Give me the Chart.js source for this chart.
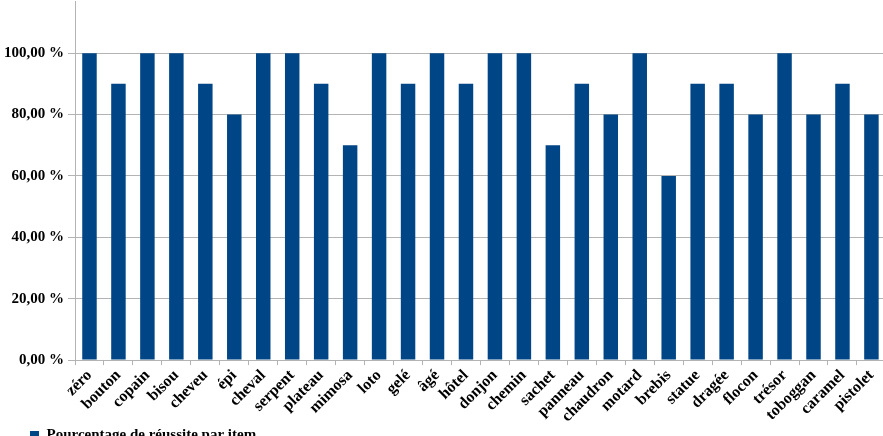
<!DOCTYPE html>
<html>
<head>
<meta charset="utf-8">
<script src="https://cdn.jsdelivr.net/npm/chart.js@4/dist/chart.umd.min.js"></script>
<style>
html,body{margin:0;padding:0;overflow:hidden;background:#fff;width:883px;height:436px;}
#wrap{position:absolute;left:0;top:-12px;width:886px;height:465px;}
</style>
</head>
<body>
<div id="wrap"><canvas id="c" width="886" height="465"></canvas></div>
<script>
const categories = ["zéro","bouton","copain","bisou","cheveu","épi","cheval","serpent","plateau","mimosa","loto","gelé","âgé","hôtel","donjon","chemin","sachet","panneau","chaudron","motard","brebis","statue","dragée","flocon","trésor","toboggan","caramel","pistolet"];
const seriesName = "Pourcentage de réussite par item";
const values = [100,90,100,100,90,80,100,100,90,70,100,90,100,90,100,100,70,90,80,100,60,90,90,80,100,80,90,80];
const yTicks = [0,20,40,60,80,100];

const fam = "'Liberation Serif', 'Times New Roman', serif";
const font = {family: fam, weight: 'bold', size: 15};
const xFont = {family: fam, weight: 'bold', size: 16};

const legendShift = {
  id: 'legendShift',
  afterLayout(chart) {
    if (chart.legend) { chart.legend.left += 29; chart.legend.right += 29; }
  }
};

new Chart(document.getElementById('c'), {
  type: 'bar',
  data: {
    labels: categories,
    datasets: [{
      label: seriesName,
      data: values,
      backgroundColor: '#004586',
      borderWidth: 0,
      barPercentage: 0.5,
      categoryPercentage: 1.0
    }]
  },
  plugins: [legendShift],
  options: {
    responsive: false,
    animation: false,
    layout: {padding: {left: 0, right: 0, top: 0, bottom: 0}},
    plugins: {
      legend: {
        position: 'bottom',
        align: 'start',
        labels: {
          boxWidth: 9, boxHeight: 9,
          color: '#000',
          font: font,
          padding: 1
        }
      },
      tooltip: {enabled: false}
    },
    scales: {
      x: {
        grid: {
          display: true,
          drawOnChartArea: false,
          drawTicks: true,
          tickLength: 5,
          color: '#b3b3b3',
          offset: true
        },
        border: {display: true, color: '#b3b3b3'},
        ticks: {
          color: '#000',
          font: xFont,
          maxRotation: 45,
          minRotation: 45,
          autoSkip: false,
          padding: 1
        }
      },
      y: {
        min: 0,
        max: 117,
        afterBuildTicks: (scale) => {
          scale.ticks = yTicks.map(v => ({value: v}));
        },
        grid: {
          color: '#b3b3b3',
          drawTicks: true,
          tickLength: 7
        },
        border: {display: true, color: '#b3b3b3'},
        ticks: {
          color: '#000',
          font: font,
          padding: 4,
          callback: (v) => v.toFixed(2).replace('.', ',') + ' %'
        }
      }
    }
  }
});
</script>
</body>
</html>
